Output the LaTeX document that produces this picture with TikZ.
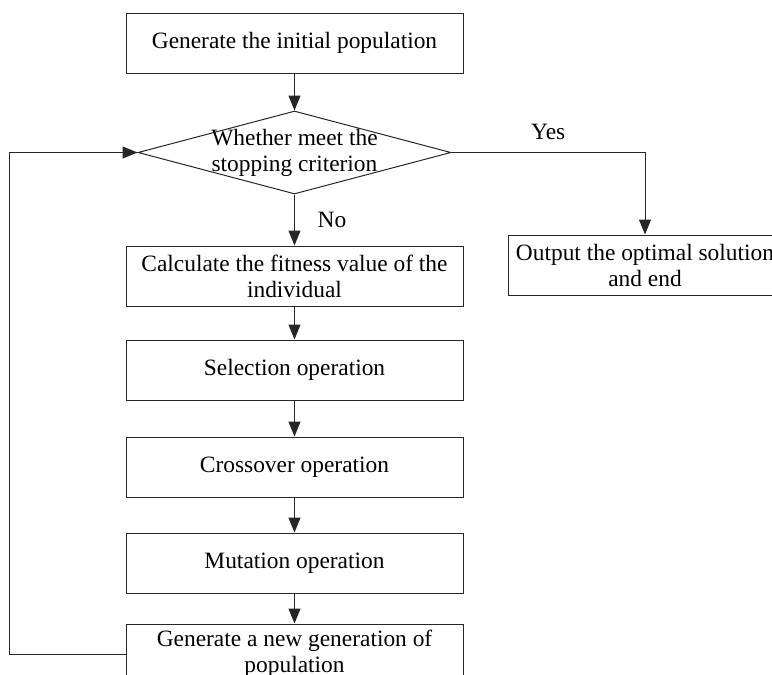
\documentclass[tikz,border=0pt]{standalone}
\usepackage{fontspec}
\setmainfont{Liberation Serif}
\usetikzlibrary{arrows.meta,positioning,shapes.geometric}

\begin{document}
\begin{tikzpicture}[
  x=0.5pt, y=-0.5pt,
  node distance=17pt,
  font=\fontsize{11.7}{13}\selectfont,
  process/.style={draw=black!85,line width=0.5pt,align=center,minimum width=168.5pt,minimum height=30pt,inner sep=2pt},
  decision/.style={draw=black!85,line width=0.5pt,diamond,inner sep=0pt,minimum width=156.5pt,minimum height=41.5pt},
  arrow/.style={-{Triangle[length=7.5pt,width=6pt]}, draw=black!85, line width=0.5pt}
]
\useasboundingbox (0,0) rectangle (772,675);
\clip (0,0) rectangle (772,675);

\node[process] (init) at (294.5,43) {Generate the initial population};
\node[decision, below=18.5pt of init] (stop) {};
\node[align=center, inner sep=0pt] (stoptext) at (stop.center) {Whether meet the\\stopping criterion};
\node[process, below=25.5pt of stop] (fit) {Calculate the fitness value of the\\individual};
\node[process, below=16.5pt of fit] (sel) {Selection operation};
\node[process, below=18pt of sel] (cross) {Crossover operation};
\node[process, below=17.5pt of cross] (mut) {Mutation operation};
\node[process, below=15pt of mut] (newgen) {Generate a new generation of\\population};
\node[process, minimum width=137pt] (out) at (645,265) {Output the optimal solution\\and end};

\draw[arrow] (init) -- (stop);
\draw[arrow] (stop) -- node[right=8pt]{No} (fit);
\draw[arrow] (stop.east) -| node[pos=0.25, above=3pt]{Yes} (out.north);
\draw[arrow] (fit) -- (sel);
\draw[arrow] (sel) -- (cross);
\draw[arrow] (cross) -- (mut);
\draw[arrow] (mut) -- (newgen);
\draw[arrow] (newgen.west) -- ++(-116,0) |- (stop.west);
\end{tikzpicture}
\end{document}
